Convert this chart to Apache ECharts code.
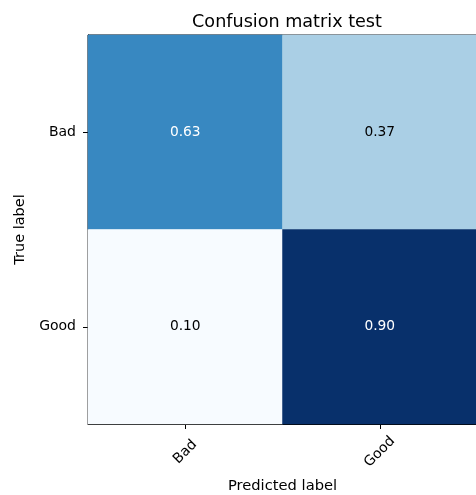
<!DOCTYPE html>
<html>
<head>
<meta charset="utf-8">
<script src="https://cdn.jsdelivr.net/npm/echarts@6/dist/echarts.min.js"></script>
<style>html,body{margin:0;padding:0;background:#fff;}#c{width:476px;height:495px;}</style>
</head>
<body>
<div id="c"></div>
<script>
const predictedLabels = ['Bad', 'Good'];
const trueLabels = ['Bad', 'Good'];
const row_Bad = [0.63, 0.37];
const row_Good = [0.10, 0.90];
const matrix = [row_Bad, row_Good];
const blues = ['#f7fbff','#deebf7','#c6dbef','#9ecae1','#6baed6','#4292c6','#2171b5','#08519c','#08306b'];

const allVals = matrix.flat();
const vmin = Math.min(...allVals), vmax = Math.max(...allVals);
const thresh = vmax / 2;
const data = [];
matrix.forEach((row, i) => row.forEach((v, j) => {
  data.push({ value: [j, i, v], label: { color: v > thresh ? '#ffffff' : '#000000' } });
}));

const font = 'DejaVu Sans';
const chart = echarts.init(document.getElementById('c'), null, { renderer: 'canvas' });
chart.setOption({
  animation: false,
  backgroundColor: '#ffffff',
  title: {
    text: 'Confusion matrix test',
    left: 282, top: 8, textAlign: 'center',
    textStyle: { fontFamily: font, fontSize: 17.6, fontWeight: 'normal', color: '#000' }
  },
  grid: { left: 88, top: 35, width: 389, height: 389, outerBoundsMode: 'none', containLabel: false, show: true, borderColor: '#000', borderWidth: 1, backgroundColor: 'transparent' },
  xAxis: {
    type: 'category', data: predictedLabels,
    name: 'Predicted label', nameLocation: 'middle', nameGap: 55,
    nameTextStyle: { fontFamily: font, fontSize: 14.7, color: '#000' },
    axisLine: { show: true, lineStyle: { color: '#000', width: 1 } },
    axisTick: { show: true, alignWithLabel: true, length: 5, lineStyle: { color: '#000' } },
    axisLabel: { rotate: 45, align: 'center', verticalAlign: 'middle', fontFamily: font, fontSize: 14, color: '#000', margin: 28 },
    splitLine: { show: false }
  },
  yAxis: {
    type: 'category', data: trueLabels, inverse: true,
    name: 'True label', nameLocation: 'middle', nameGap: 60,
    nameTextStyle: { fontFamily: font, fontSize: 14.5, color: '#000' },
    axisLine: { show: true, lineStyle: { color: '#000', width: 1 } },
    axisTick: { show: true, alignWithLabel: true, length: 5, lineStyle: { color: '#000' } },
    axisLabel: { fontFamily: font, fontSize: 14, color: '#000', margin: 12 },
    splitLine: { show: false }
  },
  visualMap: {
    show: false, type: 'continuous', min: vmin, max: vmax, dimension: 2,
    inRange: { color: blues }
  },
  series: [{
    type: 'heatmap',
    data: data,
    label: {
      show: true, fontFamily: font, fontSize: 13.8,
      formatter: p => p.value[2].toFixed(2)
    },
    itemStyle: { borderWidth: 0 },
    emphasis: { disabled: true }
  }]
});
</script>
</body>
</html>
